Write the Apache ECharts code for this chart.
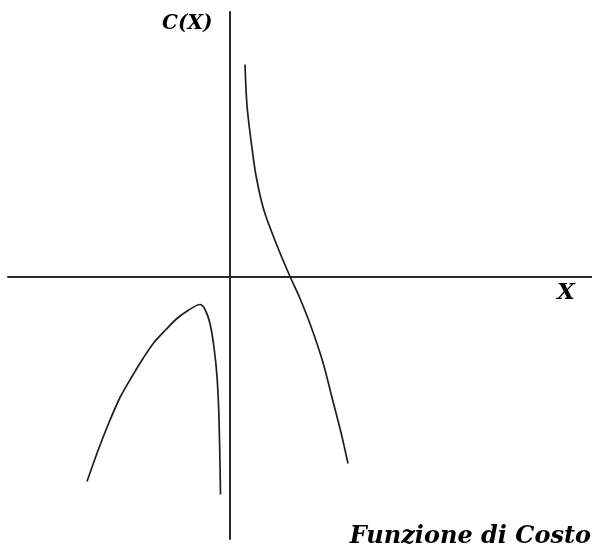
<!DOCTYPE html>
<html>
<head>
<meta charset="utf-8">
<script src="https://cdn.jsdelivr.net/npm/echarts@6/dist/echarts.min.js"></script>
<style>html,body{margin:0;padding:0;background:#fff}#c{width:592px;height:551px}</style>
</head>
<body>
<div id="c"></div>
<script>
// Left branch of the cost function
const leftX = [-1.43, -1.32, -1.21, -1.10, -0.98, -0.87, -0.76, -0.64, -0.53, -0.42, -0.30, -0.25, -0.20, -0.16, -0.13, -0.11, -0.095];
const leftY = [-2.05, -1.74, -1.46, -1.21, -1.00, -0.82, -0.66, -0.53, -0.42, -0.34, -0.28, -0.33, -0.47, -0.71, -1.00, -1.42, -2.18];
// Right branch of the cost function
const rightX = [0.15, 0.17, 0.21, 0.26, 0.34, 0.47, 0.60, 0.70, 0.81, 0.93, 1.02, 1.11, 1.18];
const rightY = [2.12, 1.71, 1.36, 1.01, 0.66, 0.31, 0.00, -0.22, -0.50, -0.86, -1.21, -1.56, -1.87];

const yLabel = 'C(X)';
const xLabel = 'X';
const caption = 'Funzione di Costo';

const zip = (xs, ys) => xs.map((x, i) => [x, ys[i]]);

const chart = echarts.init(document.getElementById('c'), null, {renderer: 'canvas'});
const axisStyle = {show: true, onZero: true, lineStyle: {color: '#2a2a2a', width: 2}};
chart.setOption({
  animation: false,
  backgroundColor: '#ffffff',
  grid: {left: 8, right: 0, top: 12, bottom: 12, containLabel: false},
  xAxis: {
    type: 'value', min: -2.22, max: 3.62,
    axisLine: axisStyle, axisTick: {show: false}, axisLabel: {show: false}, splitLine: {show: false}
  },
  yAxis: {
    type: 'value', min: -2.625, max: 2.645,
    axisLine: axisStyle, axisTick: {show: false}, axisLabel: {show: false}, splitLine: {show: false}
  },
  series: [
    {type: 'line', data: zip(leftX, leftY), smooth: 0.3, symbol: 'none',
     lineStyle: {color: '#1e1e1e', width: 1.7}},
    {type: 'line', data: zip(rightX, rightY), smooth: 0.3, symbol: 'none',
     lineStyle: {color: '#1e1e1e', width: 1.7}}
  ],
  graphic: [
    {type: 'text', left: 162, top: 14, style: {text: yLabel, font: 'bold italic 20px "DejaVu Serif", serif', fill: '#000'}},
    {type: 'text', left: 557, top: 282, style: {text: xLabel, font: 'bold italic 23px "DejaVu Serif", serif', fill: '#000'}},
    {type: 'text', right: 1, top: 525, style: {text: caption, font: 'bold italic 24px "DejaVu Serif", serif', fill: '#000'}}
  ]
});
</script>
</body>
</html>
